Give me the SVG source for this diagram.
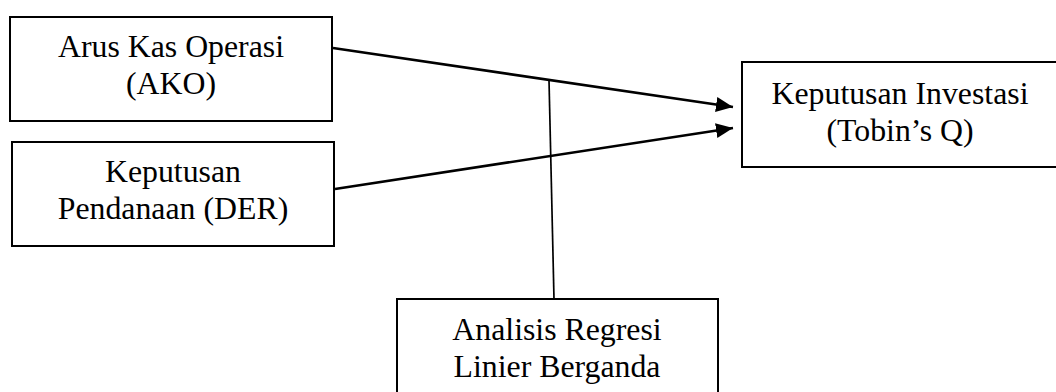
<svg xmlns="http://www.w3.org/2000/svg" width="1056" height="392" viewBox="0 0 1056 392">
  <style>
    .box { fill: #ffffff; stroke: #000000; stroke-width: 2; }
    .label { font-family: "Liberation Serif", "Times New Roman", serif; font-size: 31.8px; fill: #000000; text-anchor: middle; }
    .arrow { stroke: #000000; stroke-width: 2.6; fill: none; }
    .link { stroke: #000000; stroke-width: 1.7; fill: none; }
  </style>
  <defs>
    <marker id="head" markerUnits="userSpaceOnUse" markerWidth="17" markerHeight="15" viewBox="0 0 17 15" refX="17" refY="7.5" orient="auto">
      <path d="M0,0 L17,7.5 L0,15 Z" fill="#000000"/>
    </marker>
  </defs>

  <rect width="1056" height="392" fill="#ffffff"/>

  <g id="node-ako">
    <rect class="box" x="10" y="17" width="322" height="104"/>
    <text class="label" x="171" y="57">Arus Kas Operasi</text>
    <text class="label" x="171" y="94">(AKO)</text>
  </g>

  <g id="node-der">
    <rect class="box" x="12" y="142" width="322" height="104"/>
    <text class="label" x="173" y="182">Keputusan</text>
    <text class="label" x="173" y="219">Pendanaan (DER)</text>
  </g>

  <g id="node-tobinsq">
    <rect class="box" x="742" y="62" width="316" height="105"/>
    <text class="label" x="900" y="104">Keputusan Investasi</text>
    <text class="label" x="900" y="141">(Tobin’s Q)</text>
  </g>

  <g id="node-regresi">
    <rect class="box" x="397" y="299" width="321" height="110"/>
    <text class="label" x="557" y="340">Analisis Regresi</text>
    <text class="label" x="557" y="377">Linier Berganda</text>
  </g>

  <g id="connectors">
    <line class="arrow" x1="333" y1="48" x2="733" y2="107" marker-end="url(#head)"/>
    <line class="arrow" x1="335" y1="189" x2="733" y2="128" marker-end="url(#head)"/>
    <line class="link" x1="549" y1="80" x2="554" y2="299"/>
  </g>
</svg>
